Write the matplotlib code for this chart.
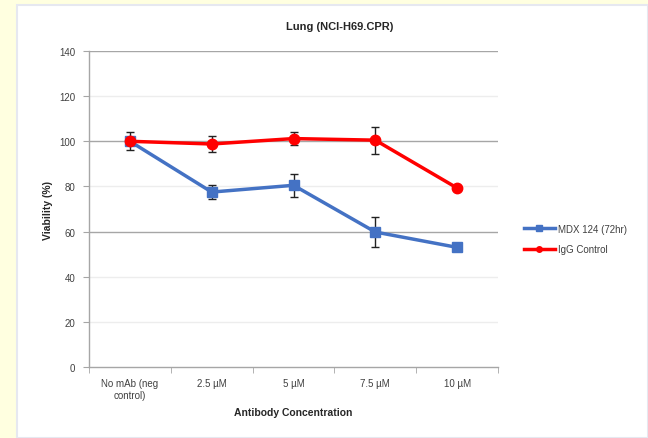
import matplotlib
matplotlib.use("Agg")
import matplotlib.pyplot as plt
from matplotlib.patches import Rectangle
from matplotlib.lines import Line2D
import numpy as np

categories = ["No mAb (neg\ncontrol)", "2.5 \u00b5M", "5 \u00b5M", "7.5 \u00b5M", "10 \u00b5M"]
mdx_values = [100, 77.5, 80.5, 59.8, 53.0]
mdx_err = [4.0, 3.0, 5.0, 6.7, 1.0]
igg_values = [100, 98.8, 101.2, 100.5, 79.3]
igg_err = [0.5, 3.5, 3.0, 6.0, 1.0]
series_names = ["MDX 124 (72hr)", "IgG Control"]
title = "Lung (NCI-H69.CPR)"
xlabel = "Antibody Concentration"
ylabel = "Viability (%)"
yticks = [0, 20, 40, 60, 80, 100, 120, 140]

plt.rcParams['font.family'] = ['Liberation Sans', 'DejaVu Sans']

fig = plt.figure(figsize=(6.48, 4.39), dpi=100)
fig.patch.set_facecolor('#FFFFE0')
# white chart panel
panel = Rectangle((17/648, 0), 1 - 17/648, 1 - 6/439, transform=fig.transFigure,
                  facecolor='white', edgecolor='#E6E8F0', linewidth=1.5, zorder=-10)
fig.add_artist(panel)

ax = fig.add_axes([89/648, (439-368)/439, (498-89)/648, (368-52)/439])
ax.set_zorder(1)
ax.set_facecolor('none')
x = np.arange(len(categories))

for yv in yticks[1:]:
    col = '#A6A6A6' if yv in (60, 100, 140) else '#EDEDED'
    ax.axhline(yv, color=col, linewidth=1.0, zorder=1)

blue = '#4472C4'
red = '#FF0000'
ax.errorbar(x, mdx_values, yerr=mdx_err, color=blue, linewidth=2.5, marker='s',
            markersize=7.5, ecolor='#222222', elinewidth=1.0, capsize=3, capthick=1.0,
            zorder=3)
ax.errorbar(x, igg_values, yerr=igg_err, color=red, linewidth=2.5, marker='o',
            markersize=7.5, ecolor='#222222', elinewidth=1.0, capsize=3, capthick=1.0,
            zorder=4)

ax.set_xlim(-0.5, len(categories) - 0.5)
ax.set_ylim(0, 140)
ax.set_yticks(yticks)
ax.set_xticks(x)
ax.set_xticklabels(categories, fontsize=7, color='#404040')
ax.tick_params(axis='x', which='major', length=0, pad=8)
ax.set_xticks(np.arange(-0.5, len(categories)), minor=True)
ax.tick_params(axis='x', which='minor', length=4, color='#A6A6A6', direction='out')
ax.tick_params(axis='y', labelsize=7, labelcolor='#404040', length=4, color='#A6A6A6', pad=6)

for s in ['top', 'right']:
    ax.spines[s].set_visible(False)
for s in ['left', 'bottom']:
    ax.spines[s].set_color('#A6A6A6')
    ax.spines[s].set_linewidth(1.0)

ax.set_xlabel(xlabel, fontsize=7.5, fontweight='bold', color='#262626', labelpad=5)
ax.set_ylabel(ylabel, fontsize=7.5, fontweight='bold', color='#262626', labelpad=4)
fig.text(340/648, 1 - 27/439, title, ha='center', va='center', fontsize=8,
         fontweight='bold', color='#262626')

handles = [Line2D([], [], color=blue, linewidth=2.5, marker='s', markersize=4),
           Line2D([], [], color=red, linewidth=2.5, marker='o', markersize=4)]
leg = fig.legend(handles, series_names, loc='center left', bbox_to_anchor=(515/648, 1 - 240/439),
                 frameon=False, fontsize=7, handlelength=3.2, labelspacing=1.1,
                 handletextpad=0.3)
for t in leg.get_texts():
    t.set_color('#404040')

fig.savefig("out.png", dpi=100, facecolor=fig.get_facecolor())
